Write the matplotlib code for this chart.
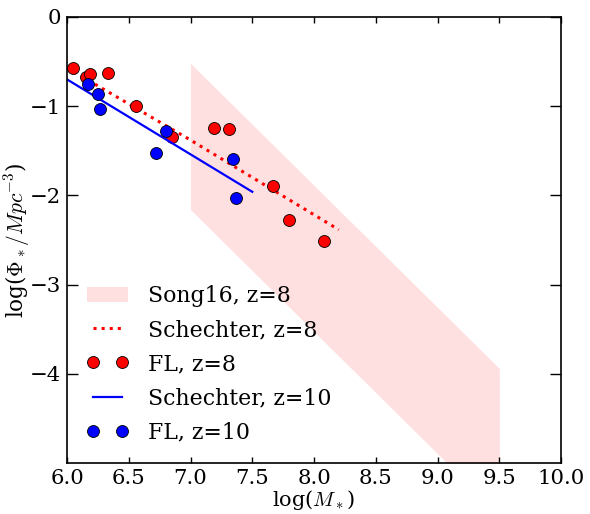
import matplotlib
matplotlib.use("Agg")
import matplotlib.pyplot as plt

plt.rcParams['font.family'] = ['DejaVu Serif']
plt.rcParams['mathtext.fontset'] = 'cm'

# Song16 band (z=8)
song_x = [7.0, 9.5]
song_upper = [-0.52, -3.94]
song_lower = [-2.16, -5.58]

# Schechter fits
sch8_x = [6.0, 7.0, 8.2]
sch8_y = [-0.57, -1.38, -2.385]
sch10_x = [6.0, 7.5]
sch10_y = [-0.70, -1.96]

# FL points
fl8_x = [6.05, 6.15, 6.19, 6.33, 6.56, 6.85, 7.19, 7.31, 7.67, 7.80, 8.08]
fl8_y = [-0.57, -0.67, -0.64, -0.63, -1.00, -1.34, -1.25, -1.255, -1.90, -2.28, -2.51]
fl10_x = [6.17, 6.25, 6.27, 6.72, 6.80, 7.34, 7.37]
fl10_y = [-0.75, -0.86, -1.03, -1.53, -1.28, -1.59, -2.03]

xticks = [6.0, 6.5, 7.0, 7.5, 8.0, 8.5, 9.0, 9.5, 10.0]
yticks = [-4, -3, -2, -1, 0]

fig = plt.figure(figsize=(5.9, 5.14), dpi=100)
ax = fig.add_axes([0.1136, 0.0992, 0.951 - 0.1136, 0.967 - 0.0992])

ax.fill_between(song_x, song_lower, song_upper, color='red', alpha=0.12,
                linewidth=0, label='Song16, z=8')
ax.plot(sch8_x, sch8_y, color='red', linestyle=':', linewidth=2.2, label='Schechter, z=8')
ax.plot(fl8_x, fl8_y, linestyle='none', marker='o', markersize=8.6,
        markerfacecolor='red', markeredgecolor='black', markeredgewidth=0.6, label='FL, z=8')
ax.plot(sch10_x, sch10_y, color='blue', linestyle='-', linewidth=1.6, label='Schechter, z=10')
ax.plot(fl10_x, fl10_y, linestyle='none', marker='o', markersize=8.6,
        markerfacecolor='blue', markeredgecolor='black', markeredgewidth=0.6, label='FL, z=10')

ax.set_xlim(6.0, 10.0)
ax.set_ylim(-5, 0)
ax.set_xticks(xticks)
ax.set_xticklabels(['%.1f' % v for v in xticks])
ax.set_yticks(yticks)
ax.set_yticklabels(['\u2212%d' % (-v) if v < 0 else '%d' % v for v in yticks])

ax.tick_params(axis='both', direction='in', top=True, right=True, labelsize=15.3, width=1)
ax.tick_params(axis='x', length=4, pad=4)
ax.tick_params(axis='y', length=8, pad=4)
for s in ax.spines.values():
    s.set_linewidth(1.2)

ax.set_xlabel(r'log($M_*$)', fontsize=15)
ax.set_ylabel(r'log($\Phi_*/Mpc^{-3}$)', fontsize=15.5)
ax.xaxis.set_label_coords(0.5, -0.055)
ax.yaxis.set_label_coords(-0.07, 0.5)

leg = ax.legend(loc='lower left', frameon=False, fontsize=15.8, numpoints=2,
                handlelength=1.9, labelspacing=0.55, borderaxespad=0.5,
                handletextpad=0.9, bbox_to_anchor=(0.0, 0.0))

fig.savefig('out.png', dpi=100, facecolor='white')
